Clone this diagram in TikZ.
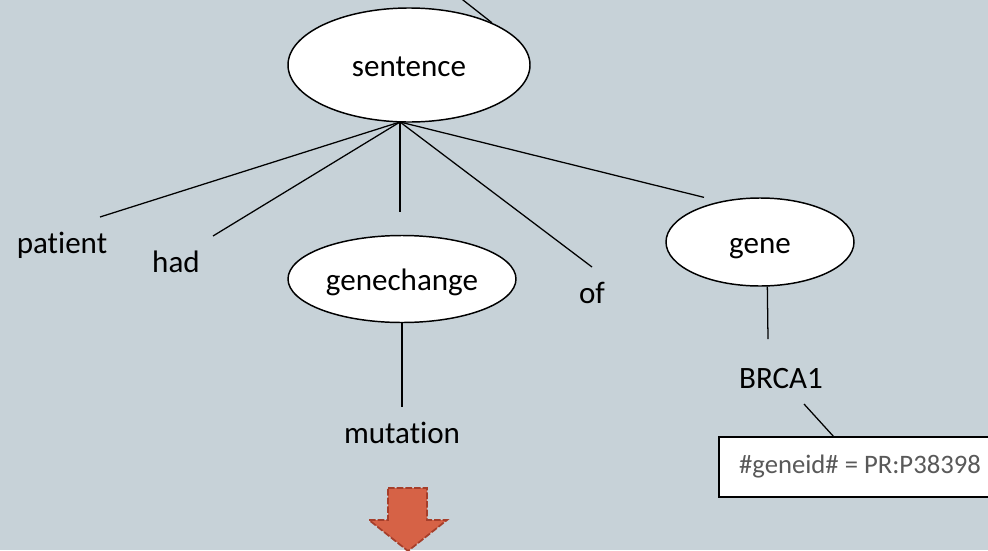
\documentclass[tikz,border=0pt]{standalone}
\usepackage{fontspec}
\setmainfont{Carlito}[Ligatures=CommonOff]
\usetikzlibrary{shapes,calc}
\definecolor{slate}{RGB}{199,210,216}
\definecolor{brick}{RGB}{214,98,70}
\definecolor{brickdark}{RGB}{166,62,42}
\definecolor{idgray}{RGB}{89,89,89}

\begin{document}
\begin{tikzpicture}[x=0.75pt,y=-0.75pt,
  font=\fontsize{23.3}{28}\selectfont,
  cat/.style={ellipse,draw,fill=white,line width=1.1pt,inner sep=0pt,text height=18pt,text depth=1.5pt},
  word/.style={anchor=base,inner sep=0pt},
  branch/.style={line width=0.95pt}]
\fill[slate] (0,0) rectangle (988,550);
\useasboundingbox (0,0) rectangle (988,550);

% tree nodes
\node[cat,minimum width=181.5pt,minimum height=85.5pt] (sentence) at (409,65) {sentence};
\node[cat,minimum width=171pt,minimum height=65.25pt] (genechange) at (402,279) {genechange};
\node[cat,minimum width=141pt,minimum height=66pt] (gene) at (760,242) {gene};

% leaves
\node[word] (patient) at (62,253) {patient};
\node[word] (had) at (176,272) {had};
\node[word] (of) at (592,303) {of};
\node[word] (mutation) at (402,443) {mutation};
\node[word] (brca) at (781,388) {BRCA1};

\node[draw,fill=white,line width=1.1pt,minimum width=211.5pt,minimum height=45pt,inner sep=0pt,
  text=idgray,font=\fontsize{20}{24}\selectfont] (geneid) at (860,467) {\#geneid\# = PR:P38398};

\coordinate (hub) at (400,122);
\coordinate (above) at (449,-11);

\draw[branch] (above) -- (sentence.27);
\draw[branch] (hub) -- ([shift={(38,-36)}]patient.base);
\draw[branch] (hub) -- ([shift={(37,-36)}]had.base);
\draw[branch] (hub) -- ([shift={(-2,-23)}]genechange.north);
\draw[branch] (hub) -- ([shift={(0,-36)}]of.base);
\draw[branch] (hub) -- ([shift={(11,-13)}]gene.north west);
\draw[branch] (genechange.south) -- ([shift={(0,-36)}]mutation.base);
\draw[branch] ([xshift=5.5pt]gene.south) -- ([shift={(-13,-49)}]brca.base);
\draw[branch] ([shift={(23,16)}]brca.base) -- ([xshift=-20pt]geneid.north);

% down arrow
\filldraw[fill=brick,draw=brickdark,line width=1.3pt,dash pattern=on 5pt off 1.5pt]
  (388,488) -- (427,488) -- (427,520) -- (447,520) -- (408,551) -- (369,520) -- (388,520) -- cycle;
\end{tikzpicture}
\end{document}
